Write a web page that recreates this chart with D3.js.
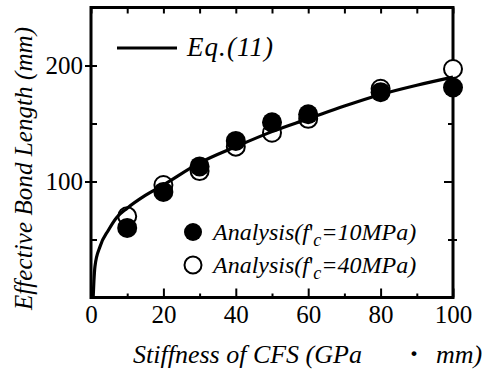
<!DOCTYPE html>
<html lang="en"><head><meta charset="utf-8">
<script src="https://cdn.jsdelivr.net/npm/d3@7/dist/d3.min.js"></script>
<style>
html,body{margin:0;padding:0;background:#fff;}
svg{display:block;}
svg text, svg tspan{font-family:'Liberation Serif', serif !important;}
</style></head>
<body>
<svg id="chart" width="487" height="372"></svg>
<script>
// Data
const stiffness = [10, 20, 30, 40, 50, 60, 80, 100];           // GPa·mm
const bond10 = [60, 91, 113, 135, 151, 158, 177, 181];          // f'c = 10 MPa (filled)
const bond40 = [70, 97, 109, 130, 142, 154, 180, 197];          // f'c = 40 MPa (open)
const eqX = [0.6, 0.8, 1.1, 2.5, 4.8, 7.1, 10, 15, 20, 30, 40, 50, 60, 70, 80, 90, 100];
const eqY = [0, 14, 27, 44, 58, 69, 77, 88, 97, 116, 130, 143, 154, 165, 175, 183, 190];
const xMajor = [0, 20, 40, 60, 80, 100];
const xMinor = [10, 30, 50, 70, 90];
const yMajor = [100, 200];
const yMinor = [50, 150];

const FONT = "'Liberation Serif', serif";
const svg = d3.select("#chart").style("font-family", FONT);
const x = d3.scaleLinear().domain([0, 100]).range([91, 453]);
const y = d3.scaleLinear().domain([0, 250]).range([297.5, 7.5]);
const X0 = x.range()[0], X1 = x.range()[1], Y0 = y.range()[0], Y1 = y.range()[1];

function styleAxis(g, labels) {
  g.attr("font-family", null).style("font-family", FONT);
  g.select(".domain").remove();
  g.selectAll(".tick line").attr("stroke", "#000").attr("stroke-width", 2);
  if (!labels) g.selectAll(".tick text").remove();
  else g.selectAll(".tick text").attr("font-size", 25).attr("fill", "#000")
        .style("font-family", FONT);
}

// bottom axis
svg.append("g").attr("transform", `translate(0,${Y0})`)
  .call(d3.axisBottom(x).tickValues(xMajor).tickSize(-9).tickPadding(8).tickFormat(d3.format("d")))
  .call(g => styleAxis(g, true));
svg.append("g").attr("transform", `translate(0,${Y0})`)
  .call(d3.axisBottom(x).tickValues(xMinor).tickSize(-4))
  .call(g => styleAxis(g, false));
// top axis
svg.append("g").attr("transform", `translate(0,${Y1})`)
  .call(d3.axisTop(x).tickValues(xMajor.concat(xMinor)).tickSize(-6))
  .call(g => styleAxis(g, false));
// left axis
svg.append("g").attr("transform", `translate(${X0},0)`)
  .call(d3.axisLeft(y).tickValues(yMajor).tickSize(6).tickPadding(2).tickFormat(d3.format("d")))
  .call(g => styleAxis(g, true));
svg.append("g").attr("transform", `translate(${X0},0)`)
  .call(d3.axisLeft(y).tickValues(yMajor.concat(yMinor)).tickSize(-6))
  .call(g => styleAxis(g, false));
// right axis
svg.append("g").attr("transform", `translate(${X1},0)`)
  .call(d3.axisRight(y).tickValues(yMajor).tickSize(-9))
  .call(g => styleAxis(g, false));
svg.append("g").attr("transform", `translate(${X1},0)`)
  .call(d3.axisRight(y).tickValues(yMinor).tickSize(-5))
  .call(g => styleAxis(g, false));
svg.append("g").attr("transform", `translate(${X1},0)`)
  .call(d3.axisRight(y).tickValues([50]).tickSize(4))
  .call(g => styleAxis(g, false));

// frame
svg.append("rect").attr("x", X0).attr("y", Y1).attr("width", X1 - X0).attr("height", Y0 - Y1)
  .attr("fill", "none").attr("stroke", "#000").attr("stroke-width", 3);

// markers
const pts40 = stiffness.map((s, i) => [s, bond40[i]]);
const pts10 = stiffness.map((s, i) => [s, bond10[i]]);
svg.append("g").selectAll("circle").data(pts40).join("circle")
  .attr("cx", d => x(d[0])).attr("cy", d => y(d[1])).attr("r", 9)
  .attr("fill", "#fff").attr("stroke", "#000").attr("stroke-width", 2);
svg.append("g").selectAll("circle").data(pts10).join("circle")
  .attr("cx", d => x(d[0])).attr("cy", d => y(d[1])).attr("r", 10)
  .attr("fill", "#000");

// Eq.(11) curve
const eqPts = eqX.map((v, i) => [v, eqY[i]]);
svg.append("path").datum(eqPts)
  .attr("d", d3.line().x(d => x(d[0])).y(d => y(d[1])).curve(d3.curveMonotoneX))
  .attr("fill", "none").attr("stroke", "#000").attr("stroke-width", 3.2);

// legend
svg.append("line").attr("x1", 117).attr("x2", 177).attr("y1", 48).attr("y2", 48)
  .attr("stroke", "#000").attr("stroke-width", 3.2);
svg.append("text").attr("x", 187).attr("y", 56).attr("font-size", 27).attr("font-style", "italic")
  .style("font-family", FONT).attr("textLength", 86).attr("lengthAdjust", "spacing")
  .text("Eq.(11)");

function legendLabel(yy, val) {
  const t = svg.append("text").attr("x", 213).attr("y", yy).attr("font-size", 24)
    .attr("font-style", "italic").style("font-family", FONT);
  t.append("tspan").text("Analysis(f");
  t.append("tspan").text("'").attr("font-style", "normal");
  t.append("tspan").text("c").attr("font-size", 18).attr("dy", 6);
  t.append("tspan").text("=" + val + "MPa)").attr("dy", -6);
}
svg.append("circle").attr("cx", 193).attr("cy", 232).attr("r", 9).attr("fill", "#000");
legendLabel(240, 10);
svg.append("circle").attr("cx", 193).attr("cy", 265).attr("r", 8.5).attr("fill", "#fff")
  .attr("stroke", "#000").attr("stroke-width", 2);
legendLabel(273, 40);

// axis titles
const xt = svg.append("text").attr("y", 363).attr("font-size", 26).attr("font-style", "italic")
  .style("font-family", FONT);
xt.append("tspan").attr("x", 133).text("Stiffness of CFS (GPa");
xt.append("tspan").attr("x", 414).attr("text-anchor", "middle").attr("font-style", "normal")
  .attr("font-weight", "bold").attr("font-size", 30).text("·");
xt.append("tspan").attr("x", 436).text("mm)");
svg.append("text").attr("transform", "translate(32,310) rotate(-90)")
  .attr("font-size", 25).attr("font-style", "italic")
  .style("font-family", FONT).attr("textLength", 283).attr("lengthAdjust", "spacing")
  .text("Effective Bond Length (mm)");
</script>
</body></html>
